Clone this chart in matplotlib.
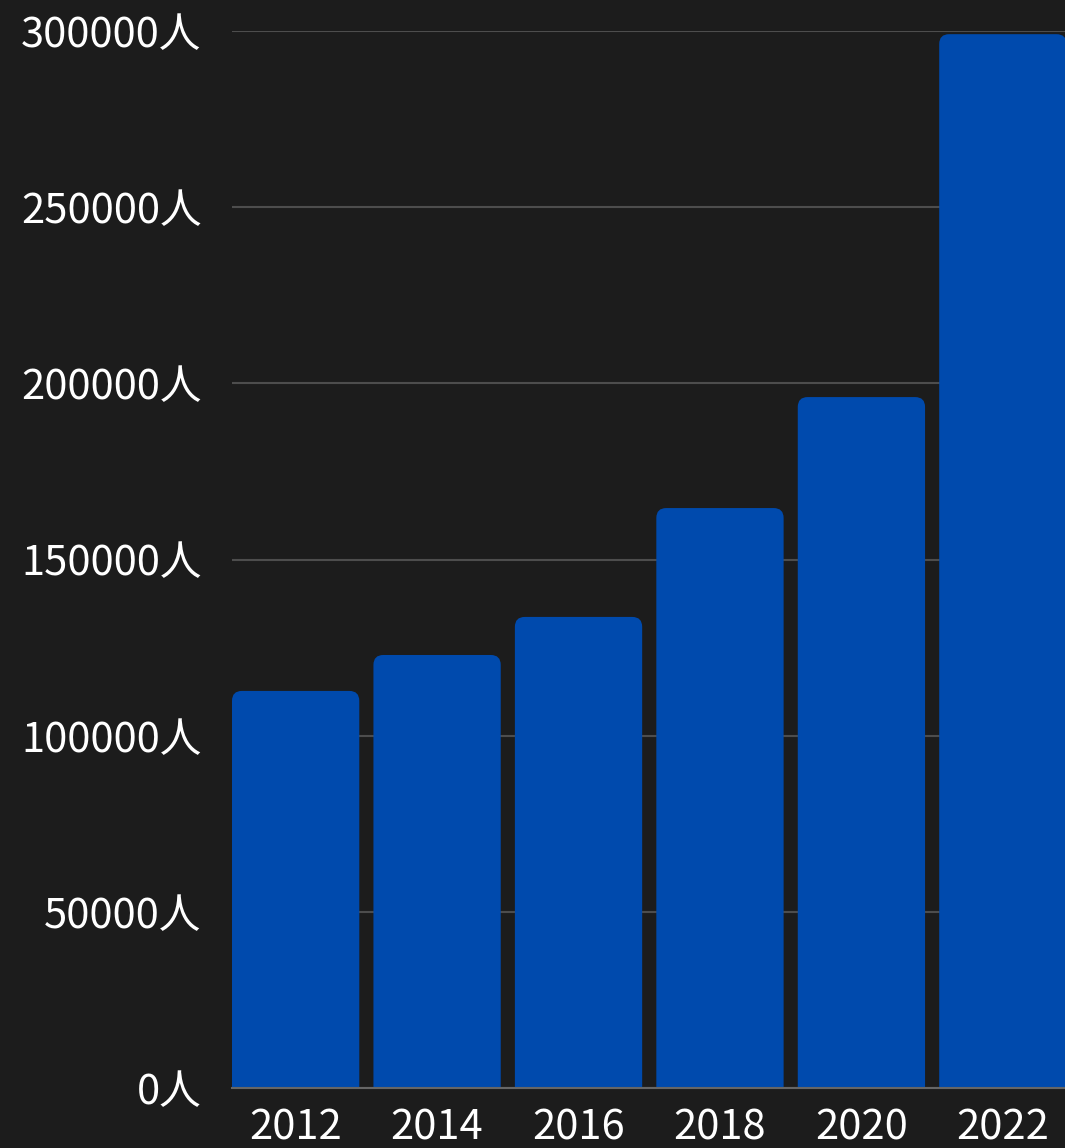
import matplotlib
matplotlib.use("Agg")
import matplotlib.pyplot as plt
from matplotlib.patches import FancyBboxPatch
from matplotlib.ticker import FuncFormatter

plt.rcParams['font.family'] = ['Noto Sans CJK JP', 'DejaVu Sans']

# data
years = ['2012', '2014', '2016', '2018', '2020', '2022']
people = [112700, 122900, 133700, 164600, 196100, 299100]
y_ticks = [0, 50000, 100000, 150000, 200000, 250000, 300000]

bg = '#1c1c1c'
bar_color = '#004aad'
grid_color = '#4d4d4d'

fig = plt.figure(figsize=(10.65, 11.48), dpi=100, facecolor=bg)
ax = fig.add_axes([232 / 1065, 60 / 1148, 834.5 / 1065, 1057 / 1148])
ax.set_facecolor(bg)

ax.set_xlim(-0.45, len(years) - 0.55)
ax.set_ylim(0, 300000)

# rounded top corners: radius in x units, aspect converts to y units
bar_w = 0.9
r = 0.07
px_per_x = 834.5 / (len(years) - 0.1)
aspect = (300000 / 1057) * px_per_x
for i, v in enumerate(people):
    p = FancyBboxPatch((i - bar_w / 2 + r, -r * aspect * 2),
                       bar_w - 2 * r, v + r * aspect * 2 - r * aspect,
                       boxstyle=f"round,pad={r},rounding_size={r}",
                       mutation_aspect=aspect,
                       facecolor=bar_color, edgecolor='none', zorder=3)
    ax.add_patch(p)

ax.set_xticks(range(len(years)))
ax.set_xticklabels(years)
ax.set_yticks(y_ticks)
ax.yaxis.set_major_formatter(FuncFormatter(lambda v, pos: f"{int(v)}人"))

ax.grid(axis='y', color=grid_color, linewidth=1.5, zorder=0)
ax.set_axisbelow(True)
for s in ['top', 'right', 'left']:
    ax.spines[s].set_visible(False)
ax.spines['bottom'].set_color('#666666')
ax.spines['bottom'].set_linewidth(1.5)
ax.spines['bottom'].set_zorder(4)

ax.tick_params(axis='both', length=0, labelsize=30, colors='white')
ax.tick_params(axis='y', pad=22)
ax.tick_params(axis='x', pad=14)

fig.savefig('out.png', dpi=100, facecolor=bg)
